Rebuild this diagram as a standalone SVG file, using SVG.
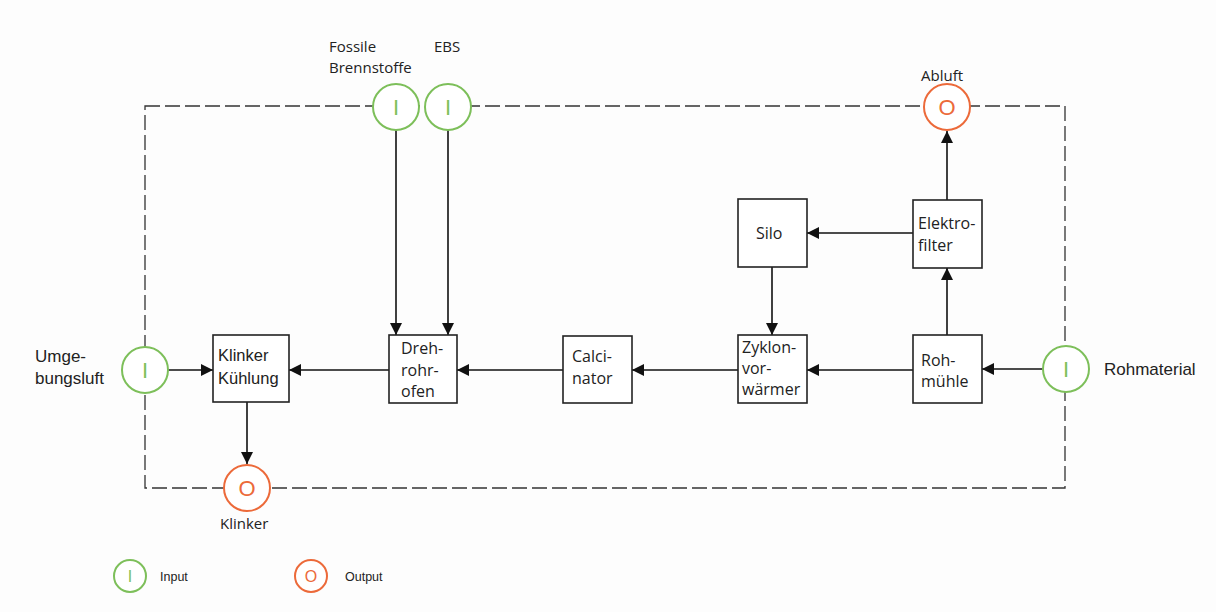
<svg xmlns="http://www.w3.org/2000/svg" width="1216" height="612" viewBox="0 0 1216 612">
<style>
.bg{fill:#fdfdfd}
.box{fill:#fff;stroke:#222;stroke-width:1.6}
.in{fill:#fff;stroke:#7dbf5a;stroke-width:2}
.out{fill:#fff;stroke:#ec6a3a;stroke-width:2}
.ti{fill:#7dbf5a;font-family:"Liberation Sans",Arial,sans-serif;font-size:22px;text-anchor:middle}
.to{fill:#ec6a3a;font-family:"Liberation Sans",Arial,sans-serif;font-size:22px;text-anchor:middle}
.lbl{fill:#222;font-family:"Liberation Sans",Arial,sans-serif;font-size:17px}
.lblm{fill:#222;font-family:"Open Sans","Liberation Sans",sans-serif;font-size:15px}
.bt{fill:#222;font-family:"Open Sans","Liberation Sans",sans-serif;font-size:16px}
.bth{fill:#222;font-family:"Liberation Sans",Arial,sans-serif;font-size:16.5px}
.leg{fill:#222;font-family:"Liberation Sans",Arial,sans-serif;font-size:12.5px}
.dash{fill:none;stroke:#333;stroke-width:1.3;stroke-dasharray:15,5}
.con{fill:none;stroke:#111;stroke-width:1.6;marker-end:url(#ah)}
</style>
<defs>
<marker id="ah" markerWidth="12" markerHeight="12" refX="12" refY="6" orient="auto" markerUnits="userSpaceOnUse" viewBox="0 0 12 12">
<path d="M0,0 L12,6 L0,12 z" fill="#111"/>
</marker>
</defs>
<rect class="bg" x="0" y="0" width="1216" height="612"/>
<g id="boundary">
<rect class="dash" x="145" y="106" width="920" height="382"/>
</g>
<g id="connectors">
<line class="con" x1="168" y1="370" x2="213" y2="370"/>
<line class="con" x1="389" y1="370" x2="289" y2="370"/>
<line class="con" x1="563" y1="370" x2="457" y2="370"/>
<line class="con" x1="738" y1="370" x2="632" y2="370"/>
<line class="con" x1="913" y1="370" x2="807" y2="370"/>
<line class="con" x1="1043" y1="369" x2="982" y2="369"/>
<line class="con" x1="913" y1="233" x2="807" y2="233"/>
<line class="con" x1="772" y1="267" x2="772" y2="335"/>
<line class="con" x1="947" y1="335" x2="947" y2="268"/>
<line class="con" x1="947" y1="200" x2="947" y2="131"/>
<line class="con" x1="396" y1="130" x2="396" y2="335"/>
<line class="con" x1="448" y1="130" x2="448" y2="335"/>
<line class="con" x1="247" y1="402" x2="247" y2="464"/>
</g>
<g id="in-fossil"><circle class="in" cx="396" cy="107" r="23"/><text class="ti" x="396" y="115">I</text>
<text class="lblm" x="329" y="52">Fossile</text><text class="lblm" x="329" y="73">Brennstoffe</text></g>
<g id="in-ebs"><circle class="in" cx="448" cy="107" r="23"/><text class="ti" x="448" y="115">I</text>
<text class="lblm" x="434" y="52">EBS</text></g>
<g id="out-abluft"><circle class="out" cx="947" cy="107" r="23"/><text class="to" x="947" y="115">O</text>
<text class="lblm" x="921" y="81">Abluft</text></g>
<g id="in-umgebungsluft"><circle class="in" cx="145" cy="370" r="23"/><text class="ti" x="145" y="378">I</text>
<text class="lbl" x="35" y="362">Umge-</text><text class="lbl" x="35" y="384">bungsluft</text></g>
<g id="out-klinker"><circle class="out" cx="247" cy="488" r="23"/><text class="to" x="247" y="496">O</text>
<text class="lblm" x="220" y="529">Klinker</text></g>
<g id="in-rohmaterial"><circle class="in" cx="1066" cy="369" r="23"/><text class="ti" x="1066" y="377">I</text>
<text class="lbl" x="1104" y="375">Rohmaterial</text></g>
<g id="klinker-kuehlung"><rect class="box" x="213" y="335" width="76" height="67"/>
<text class="bth" x="218" y="361">Klinker</text><text class="bth" x="218" y="384">Kühlung</text></g>
<g id="drehrohrofen"><rect class="box" x="389" y="335" width="68" height="68"/>
<text class="bt" x="401" y="354">Dreh-</text><text class="bt" x="401" y="376">rohr-</text><text class="bt" x="401" y="397">ofen</text></g>
<g id="calcinator"><rect class="box" x="563" y="336" width="69" height="67"/>
<text class="bt" x="572" y="362">Calci-</text><text class="bt" x="572" y="384">nator</text></g>
<g id="zyklonvorwaermer"><rect class="box" x="738" y="335" width="69" height="68"/>
<text class="bt" x="742" y="353">Zyklon-</text><text class="bt" x="742" y="374">vor-</text><text class="bt" x="742" y="395">wärmer</text></g>
<g id="rohmuehle"><rect class="box" x="913" y="335" width="69" height="68"/>
<text class="bt" x="921" y="366">Roh-</text><text class="bt" x="921" y="387">mühle</text></g>
<g id="silo"><rect class="box" x="738" y="199" width="69" height="68"/>
<text class="bt" x="756" y="239">Silo</text></g>
<g id="elektrofilter"><rect class="box" x="913" y="200" width="69" height="68"/>
<text class="bt" x="918" y="229">Elektro-</text><text class="bt" x="918" y="251">filter</text></g>
<g id="legend">
<circle class="in" cx="130" cy="576" r="16" stroke-width="1.5"/><text class="ti" x="130" y="582" style="font-size:16px">I</text>
<text class="leg" x="160" y="581">Input</text>
<circle class="out" cx="311" cy="576" r="16" stroke-width="1.5"/><text class="to" x="311" y="582" style="font-size:16px">O</text>
<text class="leg" x="345" y="581">Output</text>
</g>
</svg>
